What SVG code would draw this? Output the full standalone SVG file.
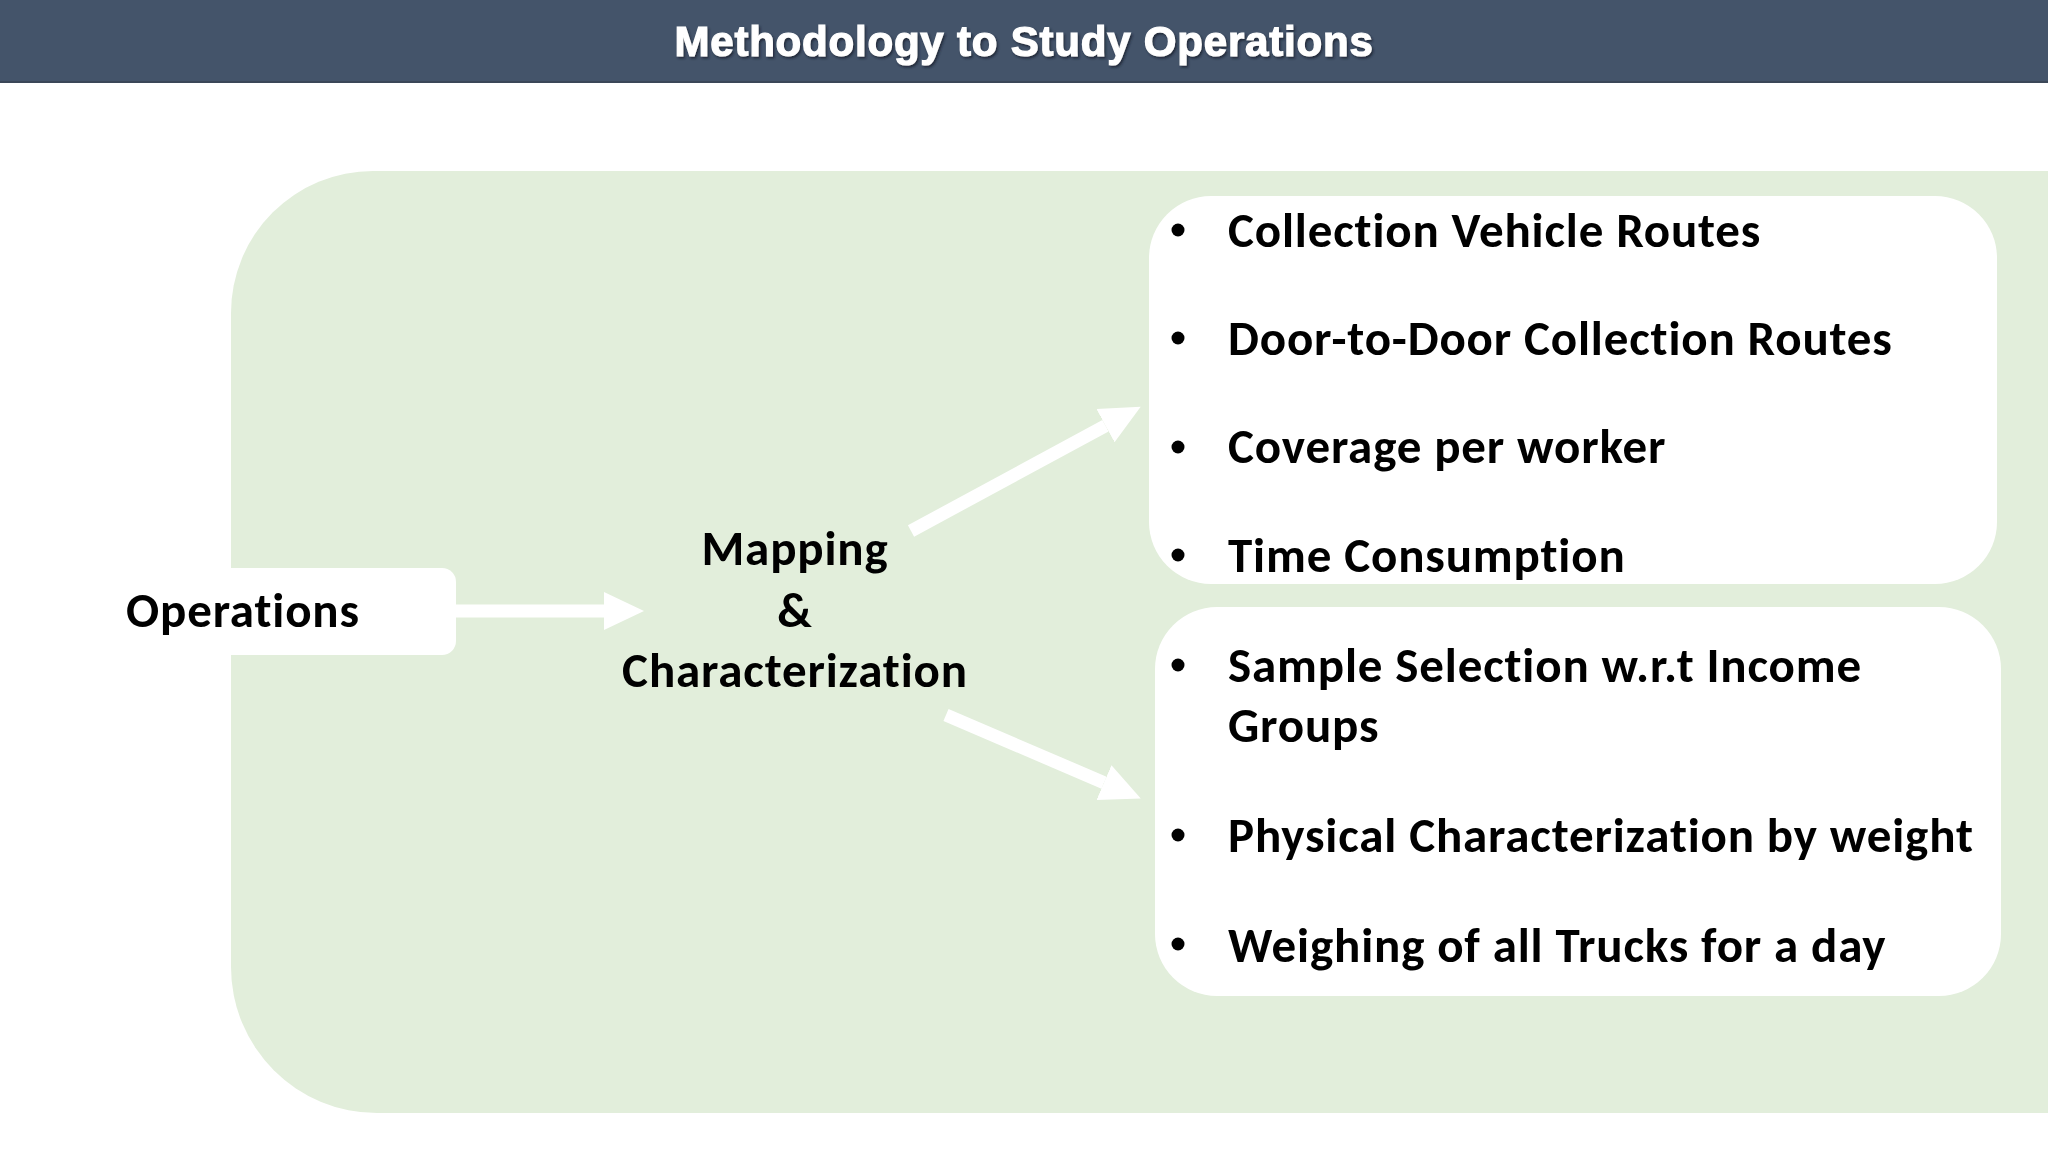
<svg xmlns="http://www.w3.org/2000/svg" width="2048" height="1152" viewBox="0 0 2048 1152">
  <defs>
    <style>
      .t { font-family: Carlito, Lato, "Liberation Sans", sans-serif; font-weight: bold; fill: #000; font-size: 49px; letter-spacing: 0.85px; }
      .title { font-family: "Liberation Sans", Arial, sans-serif; font-weight: 900; font-size: 42px; letter-spacing: 0.8px; fill: #fff; stroke: #fff; stroke-width: 1.2px; }
      .box { fill: #fff; }
      .conn { stroke: #fff; stroke-width: 13; fill: none; }
      .bullet { fill: #000; }
    </style>
    <marker id="ah" markerUnits="userSpaceOnUse" markerWidth="40" markerHeight="40" refX="0" refY="18" orient="auto" viewBox="0 0 38 36">
      <path d="M0,0 L38,18 L0,36 Z" fill="#fff"/>
    </marker>
    <filter id="shadow" x="-5%" y="-20%" width="110%" height="150%">
      <feDropShadow dx="1.5" dy="2" stdDeviation="1" flood-color="#1a2230" flood-opacity="0.8"/>
    </filter>
  </defs>

  <rect width="2048" height="1152" fill="#fff"/>

  <g id="header">
    <rect x="0" y="0" width="2048" height="83" fill="#44546a"/>
    <rect x="0" y="81" width="2048" height="2" fill="#3b4758"/>
    <text class="title" x="1024" y="56" text-anchor="middle" filter="url(#shadow)">Methodology to Study Operations</text>
  </g>

  <g id="panel">
    <path d="M373,171 H2048 V1113 H377 A146 146 0 0 1 231 967 V313 A142 142 0 0 1 373 171 Z" fill="#e2eedb"/>
  </g>

  <g id="operations">
    <rect class="box" x="100" y="568" width="356" height="87" rx="14"/>
    <text class="t" x="126" y="627">Operations</text>
  </g>

  <g id="mapping">
    <text class="t" x="795" y="565" text-anchor="middle">Mapping</text>
    <text class="t" x="795" y="627" text-anchor="middle">&amp;</text>
    <text class="t" x="795" y="687" text-anchor="middle">Characterization</text>
  </g>

  <g id="box-routes">
    <rect class="box" x="1149" y="196" width="848" height="388" rx="62"/>
    <circle class="bullet" cx="1178" cy="230" r="6.5"/>
    <text class="t" x="1228" y="247">Collection Vehicle Routes</text>
    <circle class="bullet" cx="1178" cy="338" r="6.5"/>
    <text class="t" x="1228" y="355">Door-to-Door Collection Routes</text>
    <circle class="bullet" cx="1178" cy="447" r="6.5"/>
    <text class="t" x="1228" y="463">Coverage per worker</text>
    <circle class="bullet" cx="1178" cy="555" r="6.5"/>
    <text class="t" x="1228" y="572">Time Consumption</text>
  </g>

  <g id="box-characterization">
    <rect class="box" x="1155" y="607" width="846" height="389" rx="62"/>
    <circle class="bullet" cx="1178" cy="665" r="6.5"/>
    <text class="t" x="1228" y="682">Sample Selection w.r.t Income</text>
    <text class="t" x="1228" y="742">Groups</text>
    <circle class="bullet" cx="1178" cy="835" r="6.5"/>
    <text class="t" x="1228" y="852">Physical Characterization by weight</text>
    <circle class="bullet" cx="1178" cy="944" r="6.5"/>
    <text class="t" x="1228" y="962">Weighing of all Trucks for a day</text>
  </g>

  <g id="connectors">
    <line class="conn" x1="456" y1="611" x2="604" y2="611" marker-end="url(#ah)"/>
    <line class="conn" x1="911" y1="531" x2="1105.5" y2="425.7" marker-end="url(#ah)"/>
    <line class="conn" x1="946" y1="715" x2="1104" y2="782.7" marker-end="url(#ah)"/>
  </g>
</svg>
